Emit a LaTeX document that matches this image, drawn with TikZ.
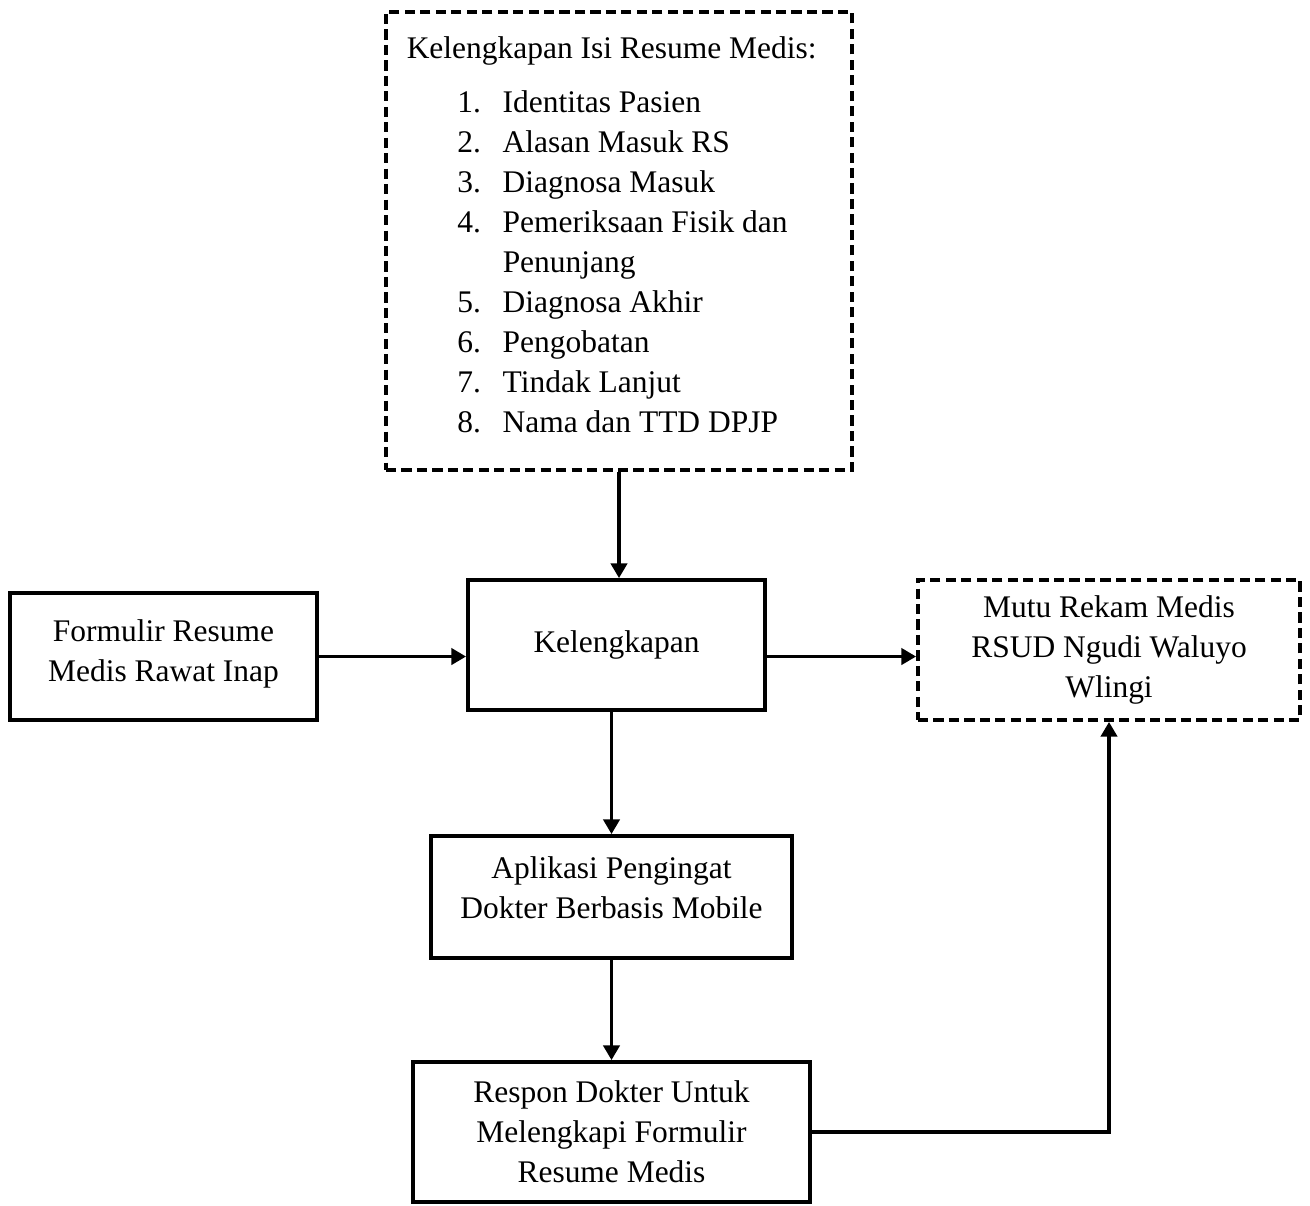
\documentclass[tikz,border=0pt]{standalone}
\usepackage{fontspec}
\setmainfont{Liberation Serif}
\usetikzlibrary{arrows.meta}

\newcommand{\itm}[2]{\hspace*{19pt}\makebox[17pt][l]{#1}#2}

\begin{document}
\begin{tikzpicture}[
		x=0.375pt, y=-0.375pt,
		every node/.style={draw, line width=1.4pt, align=center, font=\fontsize{11.8}{15}\selectfont},
		dashbox/.style={dash pattern=on 3.8pt off 2pt},
		arr/.style={line width=1.4pt, -{Triangle[length=5.5pt,width=6pt]}}
	]
	\useasboundingbox (0,0) rectangle (1310,1205);

	\node[dashbox, minimum width=174.75pt, minimum height=171.75pt, inner ysep=1pt, align=left] (isi) at (619,241) {Kelengkapan Isi Resume Medis:\hspace*{5.5pt}\\[5.25pt]
		\itm{1.}{Identitas Pasien}\\
		\itm{2.}{Alasan Masuk RS}\\
		\itm{3.}{Diagnosa Masuk}\\
		\itm{4.}{Pemeriksaan Fisik dan}\\
		\hspace*{36pt}Penunjang\\
		\itm{5.}{Diagnosa Akhir}\\
		\itm{6.}{Pengobatan}\\
		\itm{7.}{Tindak Lanjut}\\
		\itm{8.}{Nama dan TTD DPJP}\\[-10.5pt]};
	\node[minimum width=115.1pt, minimum height=47.6pt, inner ysep=1pt] (form) at (163.5,656.5) {Formulir Resume\\Medis Rawat Inap\\[-10.5pt]};
	\node[minimum width=111.4pt, minimum height=48.75pt] (kel) at (616.5,645) {Kelengkapan};
	\node[dashbox, minimum width=143.25pt, minimum height=52.5pt] (mutu) at (1109,650) {Mutu Rekam Medis\\RSUD Ngudi Waluyo\\Wlingi};
	\node[minimum width=135.4pt, minimum height=45.75pt, inner ysep=1pt] (apl) at (611.5,897) {Aplikasi Pengingat\\Dokter Berbasis Mobile\\[-8pt]};
	\node[minimum width=148.9pt, minimum height=52.5pt] (res) at (611.5,1132) {Respon Dokter Untuk\\Melengkapi Formulir\\Resume Medis};

	\draw[arr] (isi.south) -- (isi.south |- kel.north);
	\draw[arr] (form.east) -- (form.east -| kel.west);
	\draw[arr] (kel.east |- form.east) -- (mutu.west |- form.east);
	\draw[arr] (apl.north |- kel.south) -- (apl.north);
	\draw[arr] (apl.south) -- (res.north);
	\draw[arr] (res.east) -| (mutu.south);

\end{tikzpicture}
\end{document}
